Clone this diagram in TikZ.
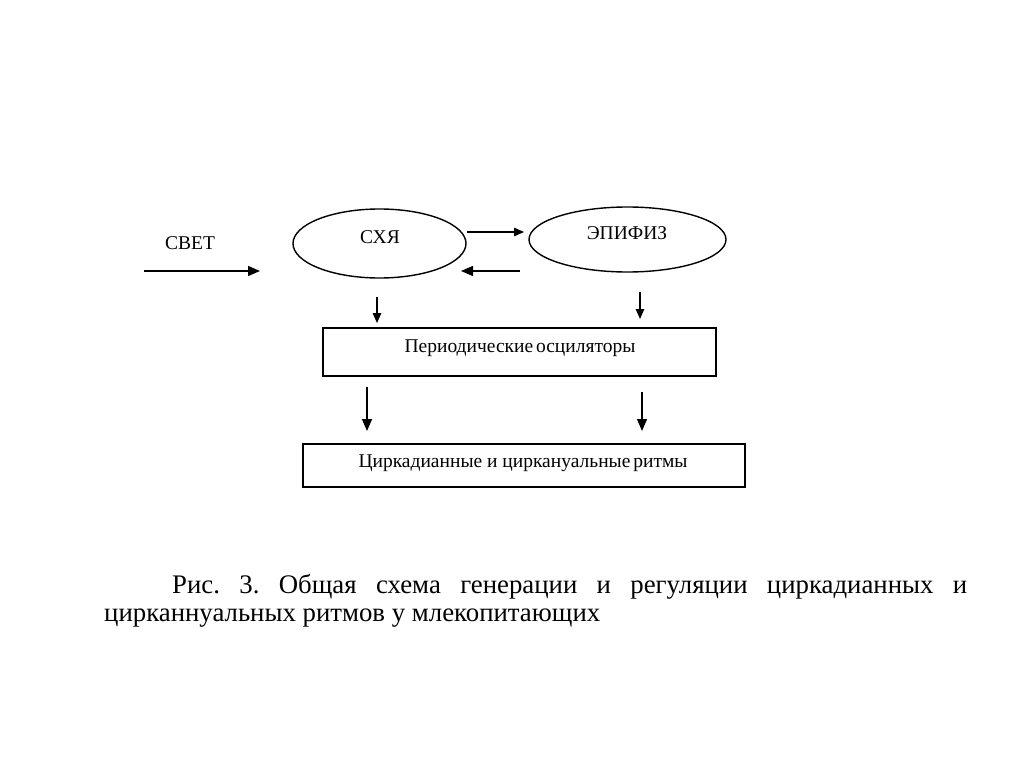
\documentclass[tikz,border=0pt]{standalone}
\usepackage{fontspec}
\setmainfont{Liberation Serif}
\usepackage{tikz}
\usetikzlibrary{arrows.meta,shapes.geometric}
\frenchspacing

\begin{document}
\begin{tikzpicture}[x=1pt,y=-1pt,
    oval/.style={draw, ellipse, line width=1.4pt, inner sep=0pt},
    block/.style={draw, rectangle, line width=1.4pt, inner sep=0pt},
    lbl/.style={font=\fontsize{19.5}{22}\selectfont, inner sep=0pt},
    arr/.style={line width=1.4pt, -{Triangle[length=10pt,width=8.5pt]}},
    bigarr/.style={line width=1.4pt, -{Triangle[length=12pt,width=10pt]}}]
    \useasboundingbox[fill=white] (0,0) rectangle (1024,767);
    % ellipses
    \node[oval, minimum width=173pt, minimum height=69pt] (sxya) at (379.5,243.5) {};
    \node[lbl] (sxyatext) at (380,237) {СХЯ};
    \node[oval, minimum width=197pt, minimum height=65pt] (epifiz) at (627.5,239.5) {};
    \node[lbl] (epifiztext) at (627,233) {ЭПИФИЗ};
    \node[lbl] (svet) at (190,243) {СВЕТ};
    % boxes
    \node[block, minimum width=393pt, minimum height=48pt] (oscil) at (519.5,352) {};
    \node[lbl] (osciltext) at (520,348) {Периодические\hspace{-2pt} осциляторы};
    \node[block, minimum width=442pt, minimum height=43pt] (rhythm) at (524,465.5) {};
    \node[lbl] (rhythmtext) at (523,463) {Циркадианные и циркануальные\hspace{-2pt} ритмы};
    % arrow ends
    \coordinate (svetA) at (144,271);
    \coordinate (svetB) at (260,271);
    \coordinate (fwdA) at (467,232);
    \coordinate (fwdB) at (524,232);
    \coordinate (backA) at (520,271);
    \coordinate (backB) at (461,271);
    \coordinate (downA) at (377,297);
    \coordinate (downB) at (377,323);
    \coordinate (downC) at (640,292);
    \coordinate (downD) at (640,319);
    \coordinate (downE) at (367,387);
    \coordinate (downF) at (367,431);
    \coordinate (downG) at (642,392);
    \coordinate (downH) at (642,431);
    \draw[bigarr] (svetA) -- (svetB);
    \draw[arr] (fwdA) -- (fwdB);
    \draw[bigarr] (backA) -- (backB);
    \draw[arr] (downA) -- (downB);
    \draw[arr] (downC) -- (downD);
    \draw[bigarr] (downE) -- (downF);
    \draw[bigarr] (downG) -- (downH);
    % caption
    \node[anchor=base west, inner sep=0pt, font=\fontsize{26.8}{30}\selectfont] (cap1) at (172,593)
        {\makebox[795pt][s]{Рис. 3. Общая схема генерации и регуляции циркадианных и}};
    \node[anchor=base west, inner sep=0pt, font=\fontsize{26.8}{30}\selectfont] (cap2) at (104,621)
        {цирканнуальных ритмов у млекопитающих};
\end{tikzpicture}
\end{document}
